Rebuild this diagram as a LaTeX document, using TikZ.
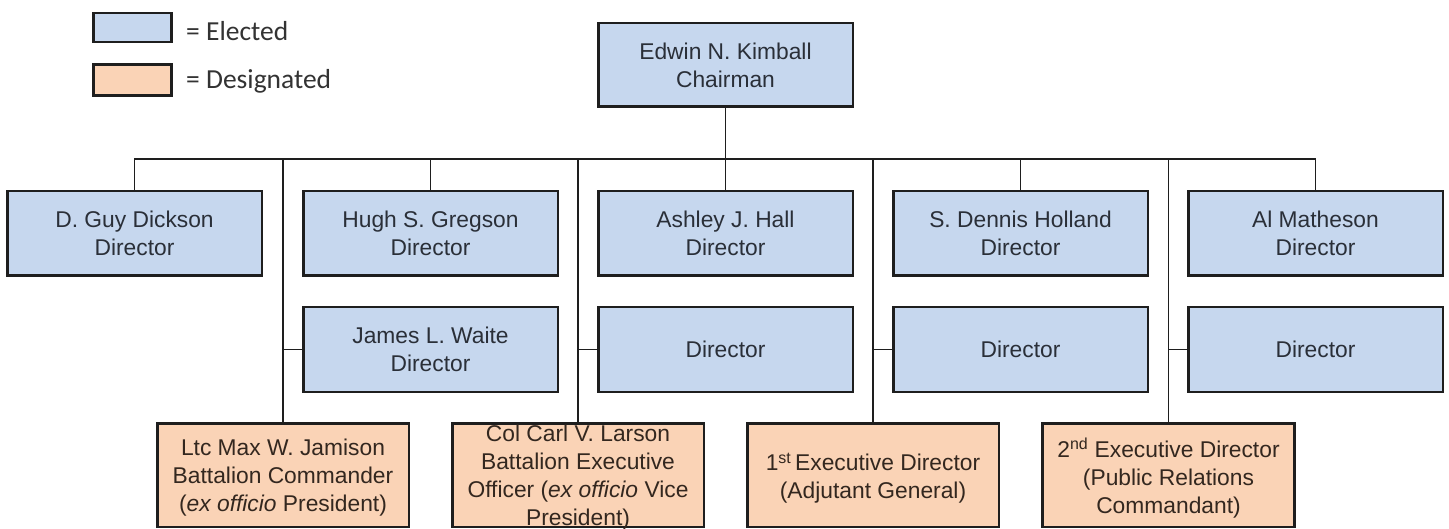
\documentclass[tikz,border=0pt]{standalone}
\usepackage{fontspec}
\setmainfont{Liberation Sans}
\newfontfamily\legendfont{Carlito}
\definecolor{elect}{HTML}{C6D7EE}
\definecolor{desig}{HTML}{FAD3B6}
\definecolor{edge}{HTML}{1E1E1E}
\definecolor{inka}{HTML}{2A2F38}
\definecolor{inkb}{HTML}{33271F}
\definecolor{legink}{HTML}{333333}
\begin{document}
\begin{tikzpicture}[x=1pt,y=-1pt,
  ebox/.style={draw=edge, fill=elect, line width=2.6pt, minimum width=252pt, minimum height=82pt, inner sep=0pt},
  dbox/.style={draw=edge, fill=desig, line width=2.6pt, minimum width=249pt, minimum height=101pt, inner sep=0pt},
  lbox/.style={draw=edge, line width=2.6pt, minimum width=78pt, minimum height=29pt, inner sep=0pt},
  etxt/.style={text=inka, align=center, inner sep=0pt, font=\fontsize{22.8}{28}\selectfont},
  dtxt/.style={text=inkb, align=center, inner sep=0pt, font=\fontsize{22.8}{28}\selectfont},
  legtxt/.style={text=legink, anchor=west, inner sep=0pt, font=\legendfont\fontsize{27.5}{30}\selectfont},
  conn/.style={draw=edge, line width=1.4pt}
]
\useasboundingbox (0,0) rectangle (1449,529);
\fill[white] (0,0) rectangle (1449,529);

% legend
\node[lbox, fill=elect] (legE) at (132.5,27.5) {};
\node[lbox, fill=desig, minimum height=31pt] (legD) at (132.5,80) {};
\node[legtxt] (legEt) at (186,31) {= Elected};
\node[legtxt] (legDt) at (186,81) {= Designated};

% boxes
\coordinate (bus) at (725.5,159);
\node[ebox, minimum height=81pt] (chair) at (725.5,65) {};
\node[ebox] (dickson) at (134.5,233.5) {};
\node[ebox] (gregson) at (430.5,233.5) {};
\node[ebox] (hall) at (725.5,233.5) {};
\node[ebox] (holland) at (1020.5,233.5) {};
\node[ebox] (matheson) at (1315.5,233.5) {};
\node[ebox] (waite) at (430.5,349.5) {};
\node[ebox] (dirA) at (725.5,349.5) {};
\node[ebox] (dirB) at (1020.5,349.5) {};
\node[ebox] (dirC) at (1315.5,349.5) {};
\node[dbox] (jamison) at (283,475) {};
\node[dbox] (larson) at (578,475) {};
\node[dbox] (first) at (873,475) {};
\node[dbox] (second) at (1168.5,475) {};

% connectors
\draw[conn] (chair.south) -- (hall.north);
\draw[conn] (dickson.north) -- (dickson.north |- bus) -- (matheson.north |- bus) -- (matheson.north);
\draw[conn] (gregson.north) -- (gregson.north |- bus);
\draw[conn] (holland.north) -- (holland.north |- bus);
\draw[conn] (jamison.north) -- (jamison.north |- bus);
\draw[conn] (larson.north) -- (larson.north |- bus);
\draw[conn] (first.north) -- (first.north |- bus);
\draw[conn] (second.north) -- (second.north |- bus);
\draw[conn] (waite.west) -- (waite.west -| jamison.north);
\draw[conn] (dirA.west) -- (dirA.west -| larson.north);
\draw[conn] (dirB.west) -- (dirB.west -| first.north);
\draw[conn] (dirC.west) -- (dirC.west -| second.north);

% redraw box outlines over the connector ends
\foreach \n in {chair,dickson,gregson,hall,holland,matheson,waite,dirA,dirB,dirC}{
  \draw[edge, line width=2.6pt, fill=elect] (\n.north west) rectangle (\n.south east);
}
\foreach \n in {jamison,larson,first,second}{
  \draw[edge, line width=2.6pt, fill=desig] (\n.north west) rectangle (\n.south east);
}

% texts
\node[etxt] (chairT) at (chair) {Edwin N. Kimball\\Chairman};
\node[etxt] (dicksonT) at (dickson) {D. Guy Dickson\\Director};
\node[etxt] (gregsonT) at (gregson) {Hugh S. Gregson\\Director};
\node[etxt] (hallT) at (hall) {Ashley J. Hall\\Director};
\node[etxt] (hollandT) at (holland) {S. Dennis Holland\\Director};
\node[etxt] (mathesonT) at (matheson) {Al Matheson\\Director};
\node[etxt] (waiteT) at (waite) {James L. Waite\\Director};
\node[etxt] (dirAT) at (dirA) {Director};
\node[etxt] (dirBT) at (dirB) {Director};
\node[etxt] (dirCT) at (dirC) {Director};
\node[dtxt] (jamisonT) at ([yshift=-3pt]jamison.center) {Ltc Max W. Jamison\\Battalion Commander\\(\textit{ex officio} President)};
\node[dtxt] (larsonT) at ([yshift=-3pt]larson.center) {Col Carl V. Larson\\Battalion Executive\\Officer (\textit{ex officio} Vice\\President)};
\node[dtxt] (firstT) at ([yshift=-3pt]first.center) {1\textsuperscript{st}\,Executive Director\\(Adjutant General)};
\node[dtxt] (secondT) at ([yshift=-3pt]second.center) {2\textsuperscript{nd} Executive Director\\(Public Relations\\Commandant)};
\end{tikzpicture}
\end{document}
